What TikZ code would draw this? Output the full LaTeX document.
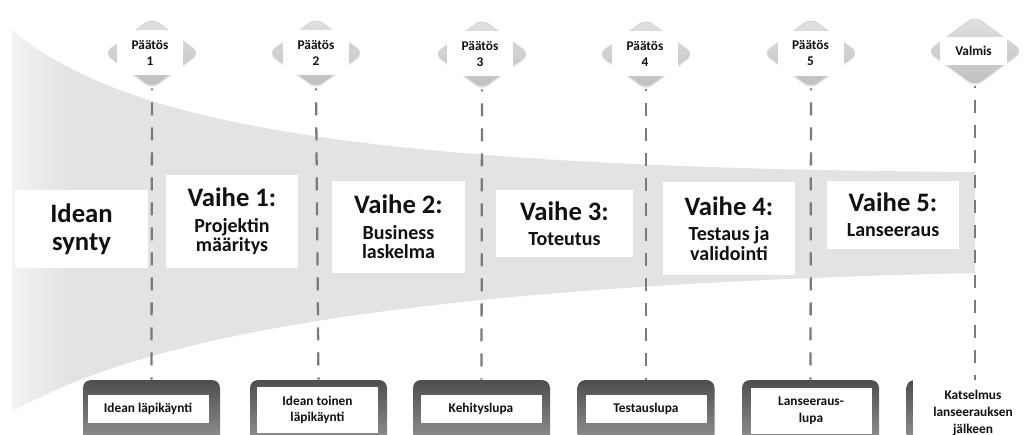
\documentclass[tikz,border=0pt]{standalone}
\usepackage{fontspec}
\setmainfont{Carlito}
\usetikzlibrary{shapes.geometric,shadows}

\definecolor{funnelbase}{HTML}{E3E3E3}
\definecolor{funnellight}{HTML}{F3F3F3}
\definecolor{dashgray}{HTML}{7A7A7A}
\definecolor{dmdtop}{HTML}{E2E2E2}
\definecolor{dmdbot}{HTML}{BEBEBE}
\definecolor{dmdedge}{HTML}{CFCFCF}
\definecolor{gatetop}{HTML}{4E4E4E}
\definecolor{gatebot}{HTML}{9A9A9A}
\definecolor{ink}{HTML}{111111}

% horizontal shading for the funnel band: lighter strip at the left end
\pgfdeclarehorizontalshading{funnelshade}{100bp}{%
  color(0bp)=(funnellight); color(25bp)=(funnellight);
  color(28bp)=(funnelbase); color(100bp)=(funnelbase)}

\tikzset{
  dmd/.style={diamond, aspect=1.36, minimum width=71.25pt, minimum height=52.5pt,
    inner sep=0pt, rounded corners=6pt, top color=dmdtop, bottom color=dmdbot,
    draw=dmdedge, line width=0.4pt,
    drop shadow={opacity=0.15, shadow xshift=0pt, shadow yshift=-1.5pt}},
  dlabel/.style={fill=white, inner sep=0pt, minimum width=49.5pt,
    minimum height=33.75pt, align=center, text=ink,
    font=\bfseries\fontsize{10}{12}\selectfont},
  dashline/.style={draw=dashgray, line width=1.7pt,
    dash pattern=on 9.75pt off 9pt, dash phase=8.25pt},
  gate/.style={rectangle, rounded corners=6pt, top color=gatetop,
    bottom color=gatebot, minimum width=102.75pt, minimum height=52.5pt,
    inner sep=0pt},
  gatelabel/.style={fill=white, inner sep=0pt, minimum width=90.75pt,
    minimum height=21pt, align=center, text=ink,
    font=\bfseries\fontsize{10}{12.5}\selectfont},
  phase/.style={fill=white, inner sep=0pt, minimum width=99pt,
    minimum height=69.75pt, align=center, text=ink,
    font=\bfseries\fontsize{15}{14.5}\selectfont},
}
\newcommand{\phasetitle}[1]{{\fontsize{20}{21}\selectfont #1}}

\begin{document}
\lineskiplimit=-20pt\relax
\begin{tikzpicture}[x=0.75pt,y=-0.75pt]
\useasboundingbox (0,0) rectangle (1033,435);
\clip (0,0) rectangle (1033,435);

% funnel band narrowing from left to right
\path[shading=funnelshade]
  (12,30) .. controls (120,120) and (340,168) .. (975,172)
  -- (975,273) .. controls (340,287) and (120,350) .. (12,412) -- cycle;

% decision diamonds
\node[dmd] (d1) at (152,53) {};
\node[dmd] (d2) at (316,53) {};
\node[dmd] (d3) at (482,54) {};
\node[dmd] (d4) at (646,54) {};
\node[dmd] (d5) at (811,53) {};
\node[dmd] (d6) at (975,51) {};

% gate boxes at the bottom
\node[gate] (g1) at (151.5,415) {};
\node[gate] (g2) at (318.5,415) {};
\node[gate] (g3) at (481.5,415) {};
\node[gate] (g4) at (646,415) {};
\node[gate] (g5) at (810.5,415) {};
\node[gate] (g6) at (975,415) {};

% dashed milestone lines
\foreach \i in {1,...,6}{
  \draw[dashline] (d\i.south) -- (g\i.north);
}

% decision labels
\node[dlabel] (l1) at (150,52.5) {Päätös\\1};
\node[dlabel] (l2) at (316,52.5) {Päätös\\2};
\node[dlabel] (l3) at (480,54) {Päätös\\3};
\node[dlabel] (l4) at (645,54) {Päätös\\4};
\node[dlabel] (l5) at (810.5,53.5) {Päätös\\5};
\node[dlabel, minimum width=50.25pt, minimum height=21pt] (l6) at (973.5,51) {Valmis};

% phase boxes
\node[phase, minimum width=99.75pt, minimum height=58.5pt,
  font=\bfseries\fontsize{20}{21}\selectfont] (p0) at (81.5,229) {Idean\\synty};
\node[phase] (p1) at (232,221.5) {\phasetitle{Vaihe 1:}\\[4.5pt]Projektin\\määritys};
\node[phase, minimum width=99.75pt, minimum height=69pt] (p2) at (398.5,227)
  {\phasetitle{Vaihe 2:}\\[4.5pt]Business\\laskelma};
\node[phase, minimum width=102.75pt, minimum height=50.25pt] (p3) at (564.5,223.5)
  {\phasetitle{Vaihe 3:}\\[4.5pt]Toteutus};
\node[phase] (p4) at (729,228.5) {\phasetitle{Vaihe 4:}\\[4.5pt]Testaus ja\\validointi};
\node[phase, minimum height=51pt] (p5) at (893,215) {\phasetitle{Vaihe 5:}\\[4.5pt]Lanseeraus};

% gate labels
\node[gatelabel] (t1) at (148,409) {Idean läpikäynti};
\node[gatelabel, minimum height=34.5pt] (t2) at (317.5,410) {Idean toinen\\läpikäynti};
\node[gatelabel] (t3) at (481,409) {Kehityslupa};
\node[gatelabel] (t4) at (646,409) {Testauslupa};
\node[gatelabel, minimum height=34.5pt] (t5) at (811,411) {Lanseeraus-\\lupa};
\node[gatelabel, minimum width=90pt, minimum height=49.5pt] (t6) at (973,413)
  {Katselmus\\lanseerauksen\\jälkeen};
\end{tikzpicture}
\end{document}
